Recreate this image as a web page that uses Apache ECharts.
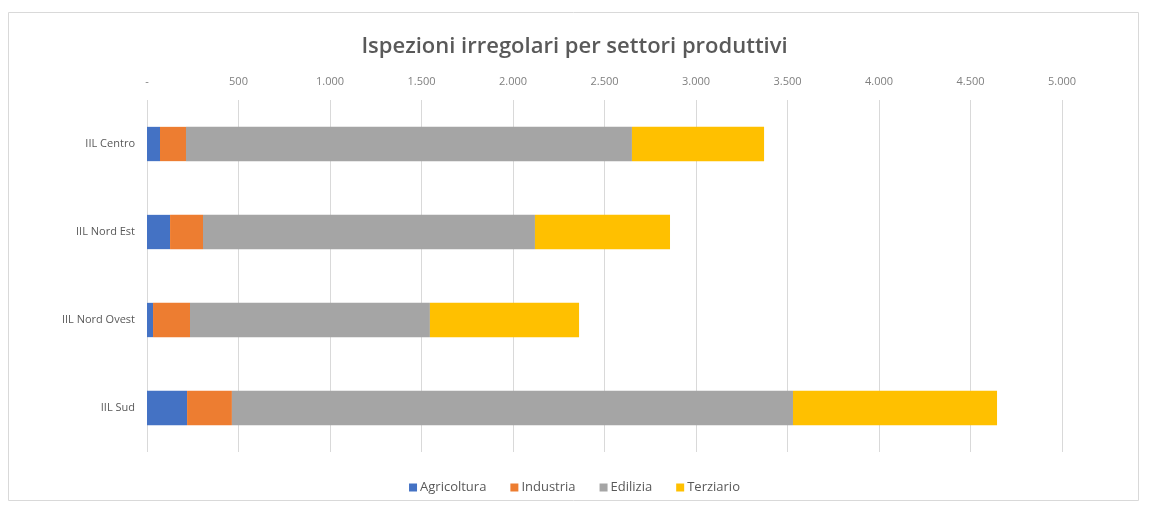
<!DOCTYPE html>
<html><head><meta charset="utf-8">
<script src="https://cdn.jsdelivr.net/npm/echarts@6/dist/echarts.min.js"></script>
<style>html,body{margin:0;padding:0;background:#fff}#c{width:1149px;height:506px}</style>
</head><body><div id="c"></div>
<script>
const categories = ['IIL Centro', 'IIL Nord Est', 'IIL Nord Ovest', 'IIL Sud'];
const agricoltura = [71, 126, 33, 219];
const industria = [142, 180, 202, 245];
const edilizia = [2437, 1814, 1311, 3066];
const terziario = [722, 738, 815, 1115];
const seriesNames = ['Agricoltura', 'Industria', 'Edilizia', 'Terziario'];
const colors = ['#4472C4', '#ED7D31', '#A5A5A5', '#FFC000'];
const FONT = '"Open Sans", "Noto Sans", sans-serif';

function fmt(v){ if (v === 0) return '-'; return String(v).replace(/\B(?=(\d{3})+(?!\d))/g, '.'); }

const chart = echarts.init(document.getElementById('c'), null, {renderer:'canvas'});
const data = [agricoltura, industria, edilizia, terziario];
chart.setOption({
  animation: false,
  title: { text: 'Ispezioni irregolari per settori produttivi', left: 'center', top: 31,
    textStyle: { fontFamily: FONT, fontSize: 22, fontWeight: 600, color: '#595959' } },
  graphic: [{ type: 'rect', shape: { x: 8.5, y: 12.5, width: 1130, height: 488 },
    style: { fill: 'none', stroke: '#d9d9d9', lineWidth: 1 }, silent: true }],
  legend: { bottom: 7, left: 'center', itemWidth: 8, itemHeight: 8, itemGap: 24,
    icon: 'rect', textStyle: { fontFamily: FONT, fontSize: 13, color: '#595959', padding:[0,0,0,-2] } },
  grid: { left: 147, right: 87, top: 100, bottom: 54 },
  xAxis: { type: 'value', position: 'top', min: 0, max: 5000, interval: 500,
    axisLine: { show: false }, axisTick: { show: false },
    splitLine: { lineStyle: { color: '#d9d9d9' } },
    axisLabel: { formatter: fmt, fontFamily: FONT, fontSize: 11, color: '#7f7f7f', margin: 13 } },
  yAxis: { type: 'category', data: categories, inverse: true,
    axisLine: { show: false }, axisTick: { show: false },
    axisLabel: { fontFamily: FONT, fontSize: 11, color: '#595959', margin: 12 } },
  series: seriesNames.map((n, i) => ({ name: n, type: 'bar', stack: 'tot', barWidth: '39%',
    itemStyle: { color: colors[i] }, data: data[i] }))
});
</script></body></html>
